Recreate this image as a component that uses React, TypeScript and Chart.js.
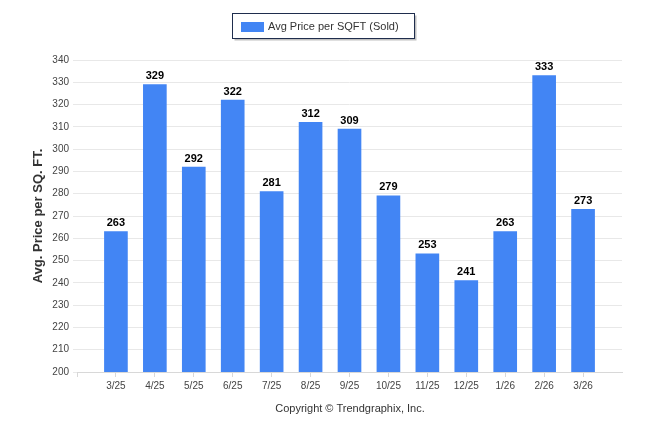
import React, { useEffect, useRef } from "react";
import { Chart, registerables } from "chart.js";

Chart.register(...registerables);

const categories = ["3/25", "4/25", "5/25", "6/25", "7/25", "8/25", "9/25", "10/25", "11/25", "12/25", "1/26", "2/26", "3/26"];
const avgPriceSold = [263, 329, 292, 322, 281, 312, 309, 279, 253, 241, 263, 333, 273];
const seriesName = "Avg Price per SQFT (Sold)";
const yTitle = "Avg. Price per SQ. FT.";
const footerText = "Copyright \u00A9 Trendgraphix, Inc.";
const yMin = 200;
const yMax = 340;
const yStep = 10;

const FONT = "'Liberation Sans', Arial, sans-serif";
const BAR = "#4285f4";

const decorPlugin = {
  id: "decor",
  afterDatasetsDraw(chart: any) {
    const ctx = chart.ctx;
    const meta = chart.getDatasetMeta(0);
    ctx.save();
    ctx.font = `bold 11px ${FONT}`;
    ctx.fillStyle = "#000";
    ctx.textAlign = "center";
    ctx.textBaseline = "bottom";
    meta.data.forEach((el: any, i: number) => {
      ctx.fillText(String(avgPriceSold[i]), el.x, el.y - 3);
    });
    ctx.restore();
  },
  afterDraw(chart: any) {
    const ctx = chart.ctx;
    const area = chart.chartArea;
    ctx.save();
    ctx.translate(38, (area.top + area.bottom) / 2);
    ctx.rotate(-Math.PI / 2);
    ctx.font = `bold 13px ${FONT}`;
    ctx.fillStyle = "#333";
    ctx.textAlign = "center";
    ctx.textBaseline = "middle";
    ctx.fillText(yTitle, 0, 0);
    ctx.restore();

    ctx.save();
    ctx.font = `11px ${FONT}`;
    ctx.fillStyle = "#333";
    ctx.textAlign = "center";
    ctx.textBaseline = "middle";
    ctx.fillText(footerText, 350, 409);
    ctx.restore();

    ctx.save();
    const bx = 232.5, by = 13.5, bw = 182, bh = 25;
    ctx.fillStyle = "rgba(0,0,0,0.25)";
    ctx.fillRect(bx + 2, by + 2, bw, bh);
    ctx.fillStyle = "#fff";
    ctx.fillRect(bx, by, bw, bh);
    ctx.strokeStyle = "#1f2d4d";
    ctx.lineWidth = 1;
    ctx.strokeRect(bx, by, bw, bh);
    ctx.fillStyle = BAR;
    ctx.fillRect(241, 22, 23, 10);
    ctx.font = `11px ${FONT}`;
    ctx.fillStyle = "#333";
    ctx.textAlign = "left";
    ctx.textBaseline = "middle";
    ctx.fillText(seriesName, 268, 27);
    ctx.restore();
  },
};

export default function App() {
  const ref = useRef<HTMLCanvasElement>(null);
  useEffect(() => {
    if (!ref.current) return;
    const chart = new Chart(ref.current, {
      type: "bar",
      data: {
        datasets: [
          {
            label: seriesName,
            data: avgPriceSold.map((v, i) => ({ x: i, y: v })),
            backgroundColor: BAR,
            barThickness: 23,
          },
        ],
      },
      options: {
        responsive: false,
        animation: false,
        devicePixelRatio: 1,
        layout: { padding: { top: 60, right: 24, bottom: 0, left: 0 } },
        plugins: { legend: { display: false }, tooltip: { enabled: false } },
        scales: {
          x: {
            type: "linear",
            offset: false,
            min: -1,
            max: 13,
            afterBuildTicks(scale: any) {
              const t: any[] = [];
              for (let i = -1; i <= 12; i++) t.push({ value: i });
              scale.ticks = t;
            },
            afterFit(scale: any) {
              scale.height = 62;
            },
            ticks: {
              autoSkip: false,
              maxRotation: 0,
              padding: 3,
              color: "#444",
              font: { family: FONT, size: 10 },
              callback: (v: any) => (v >= 0 && v < categories.length ? categories[v] : ""),
            },
            grid: { offset: false, drawOnChartArea: false, drawTicks: true, tickLength: 5, color: "#d8d8d8" },
            border: { display: true, color: "#d8d8d8" },
          },
          y: {
            min: yMin,
            max: yMax,
            afterFit(scale: any) {
              scale.width = 77;
            },
            ticks: {
              stepSize: yStep,
              padding: 4,
              color: "#444",
              font: { family: FONT, size: 10 },
            },
            grid: { color: "#e8e8e8", tickLength: 4, drawTicks: true },
            border: { display: false },
          },
        },
      },
      plugins: [decorPlugin],
    } as any);
    return () => chart.destroy();
  }, []);
  return (
    <div style={{ position: "absolute", left: 0, top: 0, width: 646, height: 434, background: "#fff" }}>
      <canvas ref={ref} width={646} height={434} style={{ width: 646, height: 434 }} />
    </div>
  );
}
